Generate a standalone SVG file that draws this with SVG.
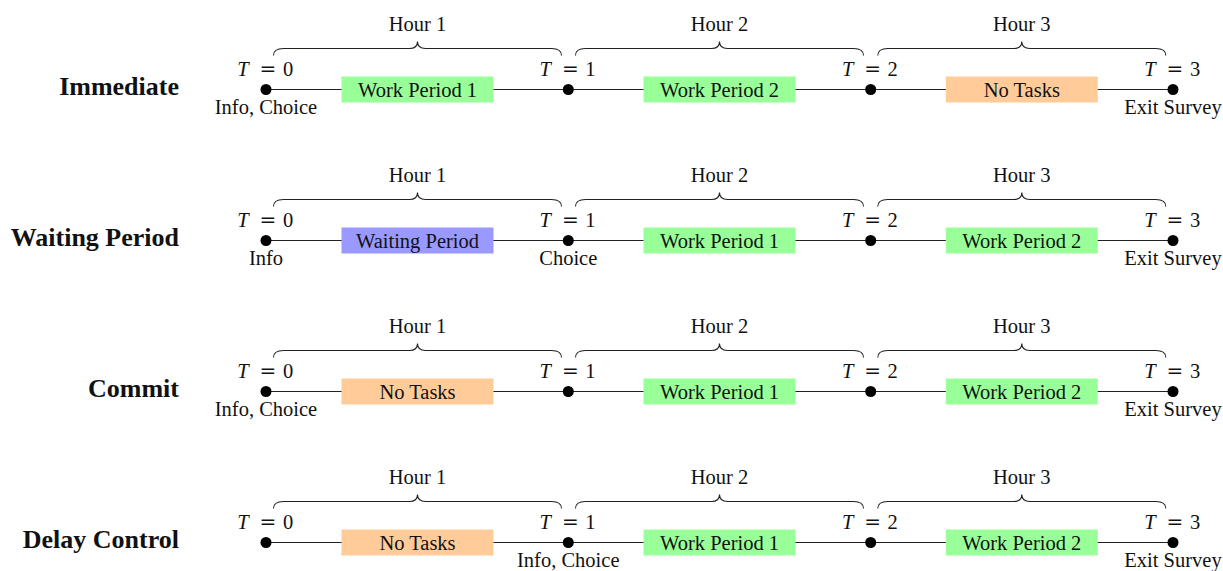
<svg xmlns="http://www.w3.org/2000/svg" xmlns:xlink="http://www.w3.org/1999/xlink" width="1223" height="571" viewBox="0 0 1223 571">
<style>
text{font-family:"Liberation Serif","Times New Roman",serif;font-size:20.5px;fill:#111;text-anchor:middle}
.lab{font-weight:bold;font-size:26px;text-anchor:end}
.it{font-style:italic}
.eq{font-family:"DejaVu Serif",serif;font-size:20px}
.ln{stroke:#222;stroke-width:1.2;fill:none}
.br{stroke:#222;stroke-width:1.1;fill:none}
.dot{fill:#000}
.g{fill:#99FF99}.o{fill:#FFCC99}.b{fill:#9999FF}
</style>
<defs>
<path id="brace" class="br" d="M-144,14 Q-144,7 -134,7 H-8 Q0,7 0,0 Q0,7 8,7 H134 Q144,7 144,14"/>
<g id="tmarks">
<text x="243" y="0" class="it">T</text><text x="268" y="0" class="eq">=</text><text x="288" y="0">0</text>
<text x="545.3" y="0" class="it">T</text><text x="570.3" y="0" class="eq">=</text><text x="590.3" y="0">1</text>
<text x="847.7" y="0" class="it">T</text><text x="872.7" y="0" class="eq">=</text><text x="892.7" y="0">2</text>
<text x="1150" y="0" class="it">T</text><text x="1175" y="0" class="eq">=</text><text x="1195" y="0">3</text>
</g>
<g id="hours">
<use xlink:href="#brace" x="417.5" y="41.5"/><text x="417.5" y="31">Hour 1</text>
<use xlink:href="#brace" x="719.5" y="41.5"/><text x="719.5" y="31">Hour 2</text>
<use xlink:href="#brace" x="1021.8" y="41.5"/><text x="1021.8" y="31">Hour 3</text>
</g>
</defs>

<g id="connectors">
<line class="ln" x1="266" y1="89.5" x2="1173" y2="89.5"/>
<line class="ln" x1="266" y1="240.5" x2="1173" y2="240.5"/>
<line class="ln" x1="266" y1="391.5" x2="1173" y2="391.5"/>
<line class="ln" x1="266" y1="542.5" x2="1173" y2="542.5"/>
</g>

<!-- Row 1: Immediate -->
<g id="row-immediate">
<text id="label-immediate" class="lab" x="179" y="95">Immediate</text>
<g id="imm-hours"><use xlink:href="#hours"/></g>
<g id="imm-T"><use xlink:href="#tmarks" y="75.5"/></g>
<g id="imm-t0"><circle class="dot" cx="266" cy="89.5" r="5.5"/><text x="266" y="114">Info, Choice</text></g>
<g id="imm-t1"><circle class="dot" cx="568.3" cy="89.5" r="5.5"/></g>
<g id="imm-t2"><circle class="dot" cx="870.7" cy="89.5" r="5.5"/></g>
<g id="imm-t3"><circle class="dot" cx="1173" cy="89.5" r="5.5"/><text x="1173" y="114">Exit Survey</text></g>
<g id="imm-b1"><rect class="g" x="341.5" y="76.5" width="152" height="26"/><text x="417.5" y="96.5">Work Period 1</text></g>
<g id="imm-b2"><rect class="g" x="643.5" y="76.5" width="152" height="26"/><text x="719.5" y="96.5">Work Period 2</text></g>
<g id="imm-b3"><rect class="o" x="945.8" y="76.5" width="152" height="26"/><text x="1021.8" y="96.5">No Tasks</text></g>
</g>

<!-- Row 2: Waiting Period -->
<g id="row-waiting" transform="translate(0,151)">
<text id="label-waiting" class="lab" x="179" y="95">Waiting Period</text>
<g id="wait-hours"><use xlink:href="#hours"/></g>
<g id="wait-T"><use xlink:href="#tmarks" y="75.5"/></g>
<g id="wait-t0"><circle class="dot" cx="266" cy="89.5" r="5.5"/><text x="266" y="114">Info</text></g>
<g id="wait-t1"><circle class="dot" cx="568.3" cy="89.5" r="5.5"/><text x="568.3" y="114">Choice</text></g>
<g id="wait-t2"><circle class="dot" cx="870.7" cy="89.5" r="5.5"/></g>
<g id="wait-t3"><circle class="dot" cx="1173" cy="89.5" r="5.5"/><text x="1173" y="114">Exit Survey</text></g>
<g id="wait-b1"><rect class="b" x="341.5" y="76.5" width="152" height="26"/><text x="417.5" y="96.5">Waiting Period</text></g>
<g id="wait-b2"><rect class="g" x="643.5" y="76.5" width="152" height="26"/><text x="719.5" y="96.5">Work Period 1</text></g>
<g id="wait-b3"><rect class="g" x="945.8" y="76.5" width="152" height="26"/><text x="1021.8" y="96.5">Work Period 2</text></g>
</g>

<!-- Row 3: Commit -->
<g id="row-commit" transform="translate(0,302)">
<text id="label-commit" class="lab" x="179" y="95">Commit</text>
<g id="com-hours"><use xlink:href="#hours"/></g>
<g id="com-T"><use xlink:href="#tmarks" y="75.5"/></g>
<g id="com-t0"><circle class="dot" cx="266" cy="89.5" r="5.5"/><text x="266" y="114">Info, Choice</text></g>
<g id="com-t1"><circle class="dot" cx="568.3" cy="89.5" r="5.5"/></g>
<g id="com-t2"><circle class="dot" cx="870.7" cy="89.5" r="5.5"/></g>
<g id="com-t3"><circle class="dot" cx="1173" cy="89.5" r="5.5"/><text x="1173" y="114">Exit Survey</text></g>
<g id="com-b1"><rect class="o" x="341.5" y="76.5" width="152" height="26"/><text x="417.5" y="96.5">No Tasks</text></g>
<g id="com-b2"><rect class="g" x="643.5" y="76.5" width="152" height="26"/><text x="719.5" y="96.5">Work Period 1</text></g>
<g id="com-b3"><rect class="g" x="945.8" y="76.5" width="152" height="26"/><text x="1021.8" y="96.5">Work Period 2</text></g>
</g>

<!-- Row 4: Delay Control -->
<g id="row-delay" transform="translate(0,453)">
<text id="label-delay" class="lab" x="179" y="95">Delay Control</text>
<g id="del-hours"><use xlink:href="#hours"/></g>
<g id="del-T"><use xlink:href="#tmarks" y="75.5"/></g>
<g id="del-t0"><circle class="dot" cx="266" cy="89.5" r="5.5"/></g>
<g id="del-t1"><circle class="dot" cx="568.3" cy="89.5" r="5.5"/><text x="568.3" y="114">Info, Choice</text></g>
<g id="del-t2"><circle class="dot" cx="870.7" cy="89.5" r="5.5"/></g>
<g id="del-t3"><circle class="dot" cx="1173" cy="89.5" r="5.5"/><text x="1173" y="114">Exit Survey</text></g>
<g id="del-b1"><rect class="o" x="341.5" y="76.5" width="152" height="26"/><text x="417.5" y="96.5">No Tasks</text></g>
<g id="del-b2"><rect class="g" x="643.5" y="76.5" width="152" height="26"/><text x="719.5" y="96.5">Work Period 1</text></g>
<g id="del-b3"><rect class="g" x="945.8" y="76.5" width="152" height="26"/><text x="1021.8" y="96.5">Work Period 2</text></g>
</g>
</svg>
